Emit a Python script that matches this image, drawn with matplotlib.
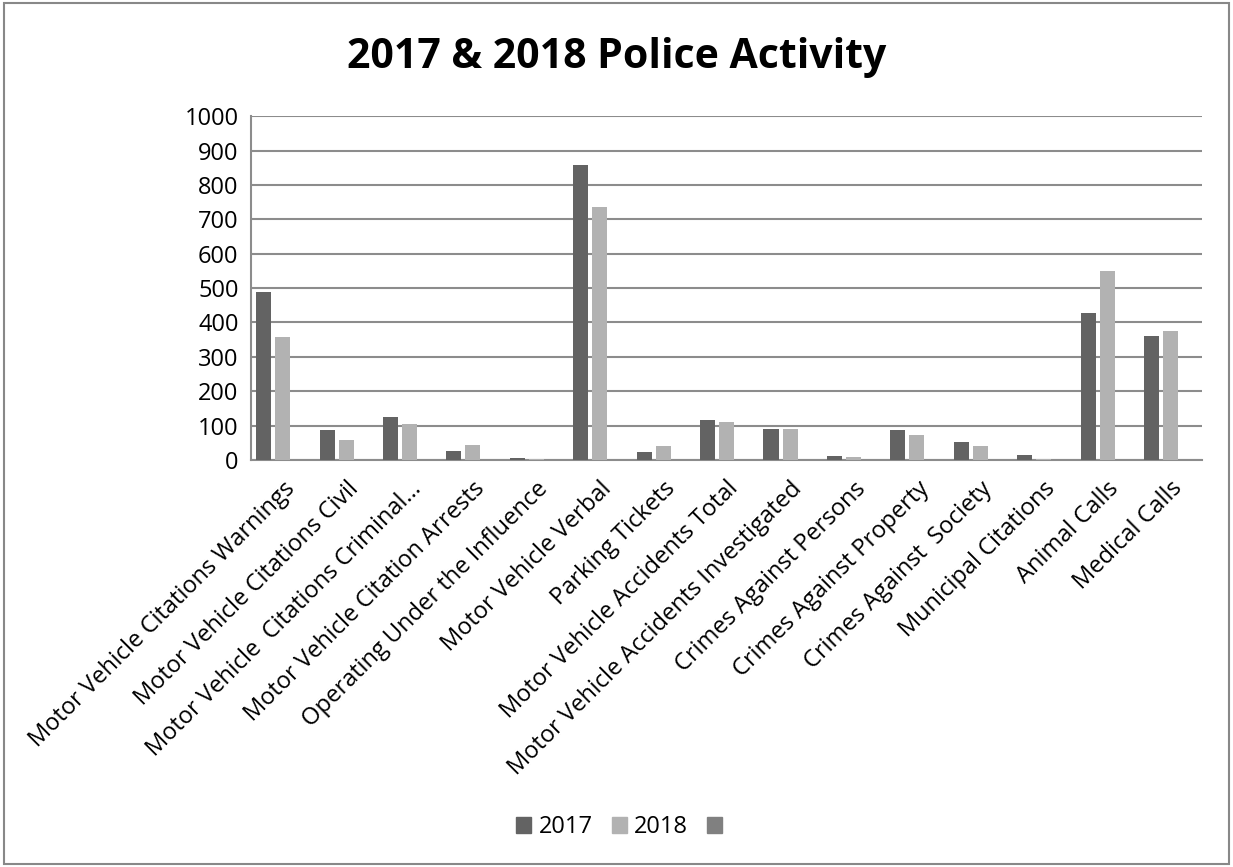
import numpy as np
import matplotlib.pyplot as plt
from matplotlib.patches import Patch, Rectangle

plt.rcParams['font.family'] = ['Open Sans', 'DejaVu Sans']

categories = [
    "Motor Vehicle Citations Warnings",
    "Motor Vehicle Citations Civil",
    "Motor Vehicle  Citations Criminal\u2026",
    "Motor Vehicle Citation Arrests",
    "Operating Under the Influence",
    "Motor Vehicle Verbal",
    "Parking Tickets",
    "Motor Vehicle Accidents Total",
    "Motor Vehicle Accidents Investigated",
    "Crimes Against Persons",
    "Crimes Against Property",
    "Crimes Against  Society",
    "Municipal Citations",
    "Animal Calls",
    "Medical Calls",
]
values_2017 = [489, 88, 124, 25, 5, 859, 24, 115, 89, 12, 86, 51, 14, 428, 360]
values_2018 = [357, 59, 104, 43, 4, 737, 40, 111, 91, 8, 74, 42, 3, 549, 376]
series_names = ["2017", "2018", ""]
yticks = list(range(0, 1001, 100))

c2017 = "#636363"
c2018 = "#b2b2b2"
c3 = "#808080"
grid_c = "#8c8c8c"

fig = plt.figure(figsize=(12.33, 8.67), dpi=100)
ax = fig.add_axes([0.2036, 0.4694, 0.7714, 0.3966])

x = np.arange(len(categories))
w = 0.237
ax.bar(x - 0.30, values_2017, width=w, color=c2017, zorder=3)
ax.bar(x, values_2018, width=w, color=c2018, zorder=3)

ax.set_xlim(-0.5, len(categories) - 0.5)
ax.set_ylim(0, 1000)
ax.set_yticks(yticks)
ax.set_yticklabels([str(t) for t in yticks], fontsize=17)
ax.set_xticks(x)
ax.set_xticklabels(categories, rotation=45, ha='right', rotation_mode='anchor', fontsize=17)
ax.tick_params(axis='y', length=0, pad=9)
ax.tick_params(axis='x', length=0, pad=12)

ax.yaxis.grid(True, color=grid_c, linewidth=1.5, zorder=0)
ax.set_axisbelow(True)
for s in ['top', 'right']:
    ax.spines[s].set_visible(False)
for s in ['left', 'bottom']:
    ax.spines[s].set_color(grid_c)
    ax.spines[s].set_linewidth(1.5)

fig.text(0.5, 0.934, "2017 & 2018 Police Activity", ha='center', va='center',
         fontsize=29.5, fontweight='bold')

handles = [Patch(color=c2017), Patch(color=c2018), Patch(color=c3)]
fig.legend(handles, series_names, loc='center', bbox_to_anchor=(0.505, 0.046),
           ncol=3, frameon=False, fontsize=17, handlelength=0.65, handleheight=0.65,
           handletextpad=0.3, columnspacing=0.8)

fig.patches.append(Rectangle((0.003, 0.004), 0.994, 0.992, transform=fig.transFigure,
                             fill=False, edgecolor="#888888", linewidth=1.5))

fig.savefig("out.png", dpi=100)
